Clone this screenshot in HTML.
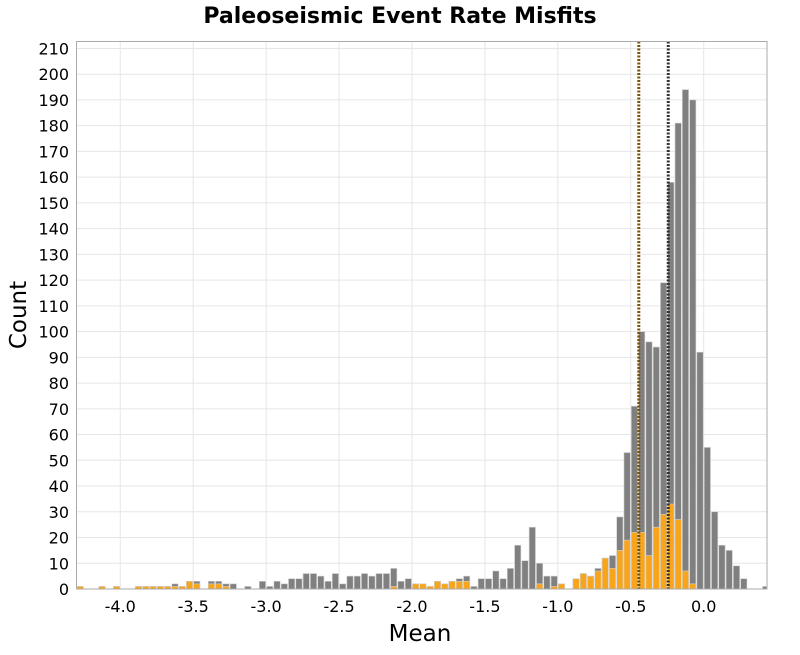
<!DOCTYPE html>
<html><head><meta charset="utf-8"><style>
html,body{margin:0;padding:0;background:#fff;}
svg text{font-family:"DejaVu Sans","Liberation Sans",sans-serif;}
</style></head><body>
<svg id="chart" width="800" height="650" xmlns="http://www.w3.org/2000/svg">
<text x="400" y="23" text-anchor="middle" font-size="22" font-weight="bold" fill="#000">Paleoseismic Event Rate Misfits</text>
<g id="grid"></g><g id="bars"></g><g id="lines"></g><g id="axes"></g>
<text x="420" y="641" text-anchor="middle" font-size="23" fill="#000">Mean</text>
<text transform="translate(26,315) rotate(-90)" text-anchor="middle" font-size="23" fill="#000">Count</text>
</svg>
<script>
const binStart = -4.30;
const binWidth = 0.05;
const totalCounts = [1,0,0,1,0,1,0,0,1,1,1,1,1,2,1,3,3,0,3,3,2,2,0,1,0,3,1,3,2,4,4,6,6,5,3,6,2,5,5,6,5,6,6,8,3,4,2,2,1,3,2,3,4,5,1,4,4,7,4,8,17,11,24,10,5,5,2,0,4,6,5,8,12,13,28,53,71,100,96,94,119,158,181,194,190,92,55,30,17,15,9,4,0,0,1];
const subsetCounts = [1,0,0,1,0,1,0,0,1,1,1,1,1,1,1,3,2,0,2,2,1,0,0,0,0,0,0,0,0,0,0,0,0,0,0,0,0,0,0,0,0,0,0,1,0,0,2,2,1,3,2,3,3,3,0,0,0,0,0,0,0,0,0,2,0,1,2,0,4,6,5,7,12,8,15,19,22,22,13,24,29,33,27,7,2,0,0,0,0,0,0,0,0,0,0];
const xTicks = [-4.0,-3.5,-3.0,-2.5,-2.0,-1.5,-1.0,-0.5,0.0];
const yTicks = [0,10,20,30,40,50,60,70,80,90,100,110,120,130,140,150,160,170,180,190,200,210];
const refLines = [-0.445,-0.243];
const NS="http://www.w3.org/2000/svg";
const L=76.5,R=767,T=41.5,B=589;
const xMin=-4.30,xMax=0.434,yMax=212.7;
const xs=v=>L+(v-xMin)/(xMax-xMin)*(R-L);
const ys=v=>B-v/yMax*(B-T);
function mk(tag,attrs,parent){const e=document.createElementNS(NS,tag);for(const k in attrs)e.setAttribute(k,attrs[k]);parent.appendChild(e);return e;}
const grid=document.getElementById('grid'),bars=document.getElementById('bars'),lines=document.getElementById('lines'),axes=document.getElementById('axes');
yTicks.forEach(t=>{
 const g=mk('line',{x1:L,x2:R,y1:ys(t),y2:ys(t),stroke:'#e6e6e6','stroke-width':1},grid);
 
 
 const tx=mk('text',{x:69,y:ys(t)+6,'text-anchor':'end','font-size':16,fill:'#000'},axes);
 tx.textContent=String(t);
 
 
});
xTicks.forEach(t=>{
 const g=mk('line',{x1:xs(t),x2:xs(t),y1:T,y2:B,stroke:'#e6e6e6','stroke-width':1},grid);
 
 
 const tx=mk('text',{x:xs(t),y:612,'text-anchor':'middle','font-size':16,fill:'#000'},axes);
 tx.textContent=t.toFixed(1);
 
 
});
function drawSeries(arr,fill,name){
 arr.forEach((c,i)=>{
  if(!c)return;
  const x0=xs(binStart+i*binWidth),x1=Math.min(xs(binStart+(i+1)*binWidth),R);
  const r=mk('rect',{x:x0+0.5,y:ys(c),width:Math.max(0,x1-x0-1),height:B-ys(c),fill:fill,stroke:'#d0d0d0','stroke-width':0.6},bars);
  
  
 });
}
drawSeries(totalCounts,'#808080','bar-total');
drawSeries(subsetCounts,'#f8a51c','bar-subset');
const lineColors=['#7a5200','#333333'];
refLines.forEach((v,i)=>{
 const l=mk('line',{x1:xs(v),x2:xs(v),y1:T,y2:B,stroke:lineColors[i],'stroke-width':3,'stroke-dasharray':'2,1.5'},lines);
 
 
});
const f=mk('rect',{x:L,y:T,width:R-L,height:B-T,fill:'none',stroke:'#aaaaaa','stroke-width':1},axes);


</script>
</body></html>
